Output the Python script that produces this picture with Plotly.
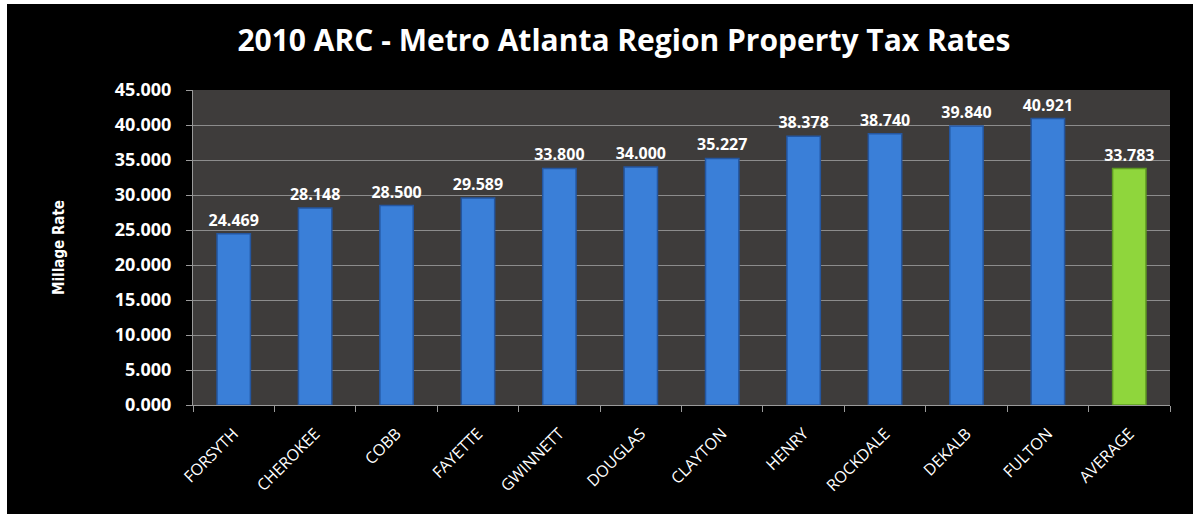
import plotly.graph_objects as go

counties = ["FORSYTH", "CHEROKEE", "COBB", "FAYETTE", "GWINNETT", "DOUGLAS",
            "CLAYTON", "HENRY", "ROCKDALE", "DEKALB", "FULTON", "AVERAGE"]
millage = [24.469, 28.148, 28.500, 29.589, 33.800, 34.000,
           35.227, 38.378, 38.740, 39.840, 40.921, 33.783]
bar_colors = ["#3a7fd8"] * 11 + ["#8fd63c"]
edge_colors = ["#2456a0"] * 11 + ["#5e9a22"]
y_ticks = [0, 5, 10, 15, 20, 25, 30, 35, 40, 45]

W, H = 1193, 514
L, R, T, B = 193, 23, 90, 109
pw, ph = W - L - R, H - T - B


def px_x(p):
    return (p - L) / pw


def px_y(p):
    return (H - B - p) / ph


fig = go.Figure()
fig.add_trace(go.Bar(
    x=counties, y=millage,
    marker=dict(color=bar_colors, line=dict(color=edge_colors, width=1.5)),
    text=[f"{v:.3f}" for v in millage],
    textposition="outside",
    constraintext="none",
    textfont=dict(family="Open Sans", size=16, color="white", weight="bold"),
    cliponaxis=False,
    width=0.41,
))

fig.update_layout(
    width=W, height=H,
    margin=dict(l=L, r=R, t=T, b=B),
    paper_bgcolor="white",
    plot_bgcolor="#3e3c3b",
    showlegend=False,
    title=dict(
        text="<b>2010 ARC - Metro Atlanta Region Property Tax Rates</b>",
        x=0.523, xanchor="center", y=1 - 40 / H, yanchor="middle",
        font=dict(family="Open Sans", size=30, color="white"),
    ),
    shapes=[
        dict(type="rect", xref="paper", yref="paper", layer="below",
             x0=px_x(7), x1=px_x(W + 5), y0=px_y(H + 5), y1=px_y(4),
             fillcolor="black", line=dict(width=0)),
        dict(type="rect", xref="paper", yref="paper", layer="below",
             x0=0, x1=1, y0=0, y1=1,
             fillcolor="#3e3c3b", line=dict(width=0)),
    ],
    font=dict(family="Open Sans", color="white"),
)

fig.update_xaxes(
    tickson="boundaries", ticks="outside", ticklen=6, tickcolor="#9a9a9a",
    showline=True, linecolor="#9a9a9a", linewidth=1,
    tickangle=-45, ticklabelstandoff=12,
    tickfont=dict(family="Open Sans", size=16, color="white"),
    showgrid=False,
)
fig.update_yaxes(
    range=[0, 45], tickvals=y_ticks,
    ticktext=[f"{v:.3f}" for v in y_ticks],
    ticks="outside", ticklen=6, tickcolor="#9a9a9a",
    ticklabelstandoff=11,
    showline=True, linecolor="#9a9a9a", linewidth=1,
    gridcolor="#8c8c8c", gridwidth=1,
    tickfont=dict(family="Open Sans", size=18, color="white", weight="bold"),
    title=dict(text="<b>Millage Rate</b>", standoff=46,
               font=dict(family="DejaVu Sans Condensed, Roboto", size=15, color="white")),
    zeroline=False,
)

fig.write_html("out.html")
